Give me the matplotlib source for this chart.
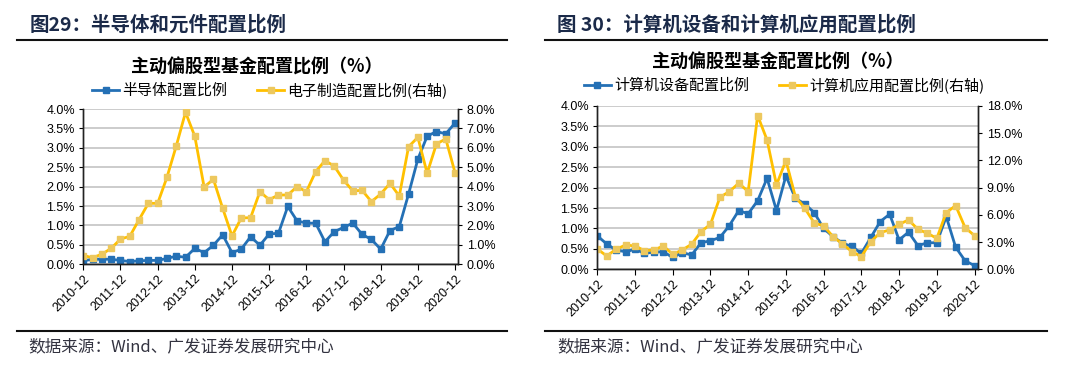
import matplotlib
matplotlib.use("Agg")
import matplotlib.pyplot as plt
from matplotlib.lines import Line2D
from matplotlib.ticker import FuncFormatter, MultipleLocator

CJK = ['Noto Sans CJK SC', 'DejaVu Sans']
LAT = ['Liberation Sans', 'DejaVu Sans']
plt.rcParams['font.family'] = CJK

# quarterly dates 2010-12 .. 2020-12
quarters = [f"{y}-{m:02d}" for y in range(2010, 2021) for m in (3, 6, 9, 12)][3:]
year_ticks = [f"{y}-12" for y in range(2010, 2021)]

# figure 29 (left axis: semiconductor, right axis: electronics manufacturing)
semi = [0.09, 0.13, 0.13, 0.13, 0.10, 0.07, 0.09, 0.10, 0.10, 0.15,
        0.21, 0.18, 0.41, 0.30, 0.49, 0.76, 0.30, 0.39, 0.71, 0.49,
        0.78, 0.80, 1.49, 1.12, 1.06, 1.06, 0.58, 0.84, 0.95, 1.06,
        0.77, 0.64, 0.39, 0.87, 0.97, 1.81, 2.71, 3.30, 3.42, 3.36, 3.64]
elec = [0.45, 0.34, 0.52, 0.82, 1.30, 1.44, 2.30, 3.14, 3.14, 4.48,
        6.09, 7.83, 6.59, 3.98, 4.38, 2.88, 1.46, 2.39, 2.40, 3.74,
        3.33, 3.57, 3.57, 4.00, 3.74, 4.77, 5.34, 5.06, 4.34, 3.78,
        3.81, 3.23, 3.62, 4.17, 3.52, 6.06, 6.54, 4.69, 6.20, 6.46, 4.72]

# figure 30 (left axis: computer hardware, right axis: computer software)
hw = [0.82, 0.62, 0.47, 0.43, 0.49, 0.39, 0.42, 0.43, 0.29, 0.41,
      0.35, 0.65, 0.70, 0.78, 1.07, 1.44, 1.36, 1.68, 2.23, 1.44,
      2.29, 1.74, 1.60, 1.39, 1.00, 0.80, 0.64, 0.56, 0.39, 0.78,
      1.17, 1.35, 0.72, 0.91, 0.58, 0.65, 0.65, 1.29, 0.54, 0.21, 0.09]
sw = [2.24, 1.47, 2.21, 2.68, 2.57, 2.06, 2.13, 2.57, 1.65, 2.13,
      2.76, 4.15, 4.96, 7.94, 8.57, 9.49, 8.57, 16.95, 14.26, 9.30,
      11.99, 8.01, 6.73, 5.11, 4.78, 3.60, 2.79, 1.95, 1.40, 3.05,
      4.04, 4.34, 4.96, 5.44, 4.41, 3.97, 3.42, 6.25, 7.02, 4.60, 3.71]

BLUE = '#2470B5'
YEL = '#FFC000'
YEL_MK = '#EDC85E'

W, H = 1080, 374
fig = plt.figure(figsize=(W / 100, H / 100), dpi=100)


def px_axes(x0, x1, ytop, ybot):
    return fig.add_axes([x0 / W, 1 - ybot / H, (x1 - x0) / W, (ybot - ytop) / H])


def hline(x0, x1, y):
    fig.add_artist(Line2D([x0 / W, x1 / W], [1 - y / H, 1 - y / H],
                          color='#111111', lw=1.5, transform=fig.transFigure))


def draw_panel(ax, left_vals, right_vals, rmax, rstep, xmax):
    x = list(range(len(quarters)))
    ax2 = ax.twinx()
    l1, = ax.plot(x, left_vals, color=BLUE, lw=2, marker='s', ms=3.8,
                  mfc=BLUE, mec=BLUE)
    l2, = ax2.plot(x, right_vals, color=YEL, lw=2, marker='s', ms=3.8,
                   mfc=YEL_MK, mec=YEL_MK)
    ax.set_xlim(0, xmax)
    ax.set_ylim(0, 4)
    ax2.set_ylim(0, rmax)
    ax.yaxis.set_major_locator(MultipleLocator(0.5))
    ax2.yaxis.set_major_locator(MultipleLocator(rstep))
    pct = FuncFormatter(lambda v, p: f"{v:.1f}%")
    ax.yaxis.set_major_formatter(pct)
    ax2.yaxis.set_major_formatter(pct)
    ax.yaxis.grid(True, color='#C8C8C8', lw=1.3)
    ax.set_axisbelow(True)
    ticks = [quarters.index(t) for t in year_ticks]
    ax.set_xticks(ticks)
    ax.set_xticklabels(year_ticks, rotation=45, ha='right',
                       rotation_mode='anchor', family=LAT, fontsize=9)
    for a in (ax, ax2):
        a.spines['top'].set_visible(False)
        for s in ('left', 'right', 'bottom'):
            a.spines[s].set_color('#222222')
            a.spines[s].set_linewidth(1.0)
        a.tick_params(axis='y', length=3, width=0.8, labelsize=9, pad=3)
        for lab in a.get_yticklabels():
            lab.set_family(LAT)
    ax.tick_params(axis='x', length=4, width=0.8, pad=2)
    return l1, l2


# ---- left panel ----
fig.text(30 / W, 1 - 25 / H, "图29：半导体和元件配置比例", fontsize=14,
         fontweight='bold', color='#1B2A49', va='center', ha='left')
hline(17, 507, 40)
fig.text(257 / W, 1 - 67 / H, "主动偏股型基金配置比例（%）", fontsize=13,
         fontweight='bold', va='center', ha='center')
axL = px_axes(83.3, 458.3, 109, 264.3)
a1, a2 = draw_panel(axL, semi, elec, 8, 1, 40.35)
fig.legend([a1, a2], ["半导体配置比例", "电子制造配置比例(右轴)"],
           loc='center', bbox_to_anchor=(270 / W, 1 - 90 / H), ncol=2,
           frameon=False, fontsize=10.8, handlelength=1.8, handletextpad=0.2,
           columnspacing=2.0, borderaxespad=0)
hline(17, 507, 330.7)
fig.text(28 / W, 1 - 347 / H, "数据来源：Wind、广发证券发展研究中心",
         fontsize=12, color='#333340', va='center', ha='left')

# ---- right panel ----
fig.text(557 / W, 1 - 25 / H, "图 30：计算机设备和计算机应用配置比例",
         fontsize=14, fontweight='bold', color='#1B2A49', va='center', ha='left')
hline(545, 1047, 40)
fig.text(778 / W, 1 - 62 / H, "主动偏股型基金配置比例（%）", fontsize=13,
         fontweight='bold', va='center', ha='center')
axR = px_axes(597.3, 978.3, 106, 269.3)
b1, b2 = draw_panel(axR, hw, sw, 18, 3, 40.4)
fig.legend([b1, b2], ["计算机设备配置比例", "计算机应用配置比例(右轴)"],
           loc='center', bbox_to_anchor=(784 / W, 1 - 85 / H), ncol=2,
           frameon=False, fontsize=10.8, handlelength=1.8, handletextpad=0.2,
           columnspacing=2.0, borderaxespad=0)
hline(545, 1047, 330.7)
fig.text(557 / W, 1 - 347 / H, "数据来源：Wind、广发证券发展研究中心",
         fontsize=12, color='#333340', va='center', ha='left')

fig.savefig("out.png", dpi=100)
